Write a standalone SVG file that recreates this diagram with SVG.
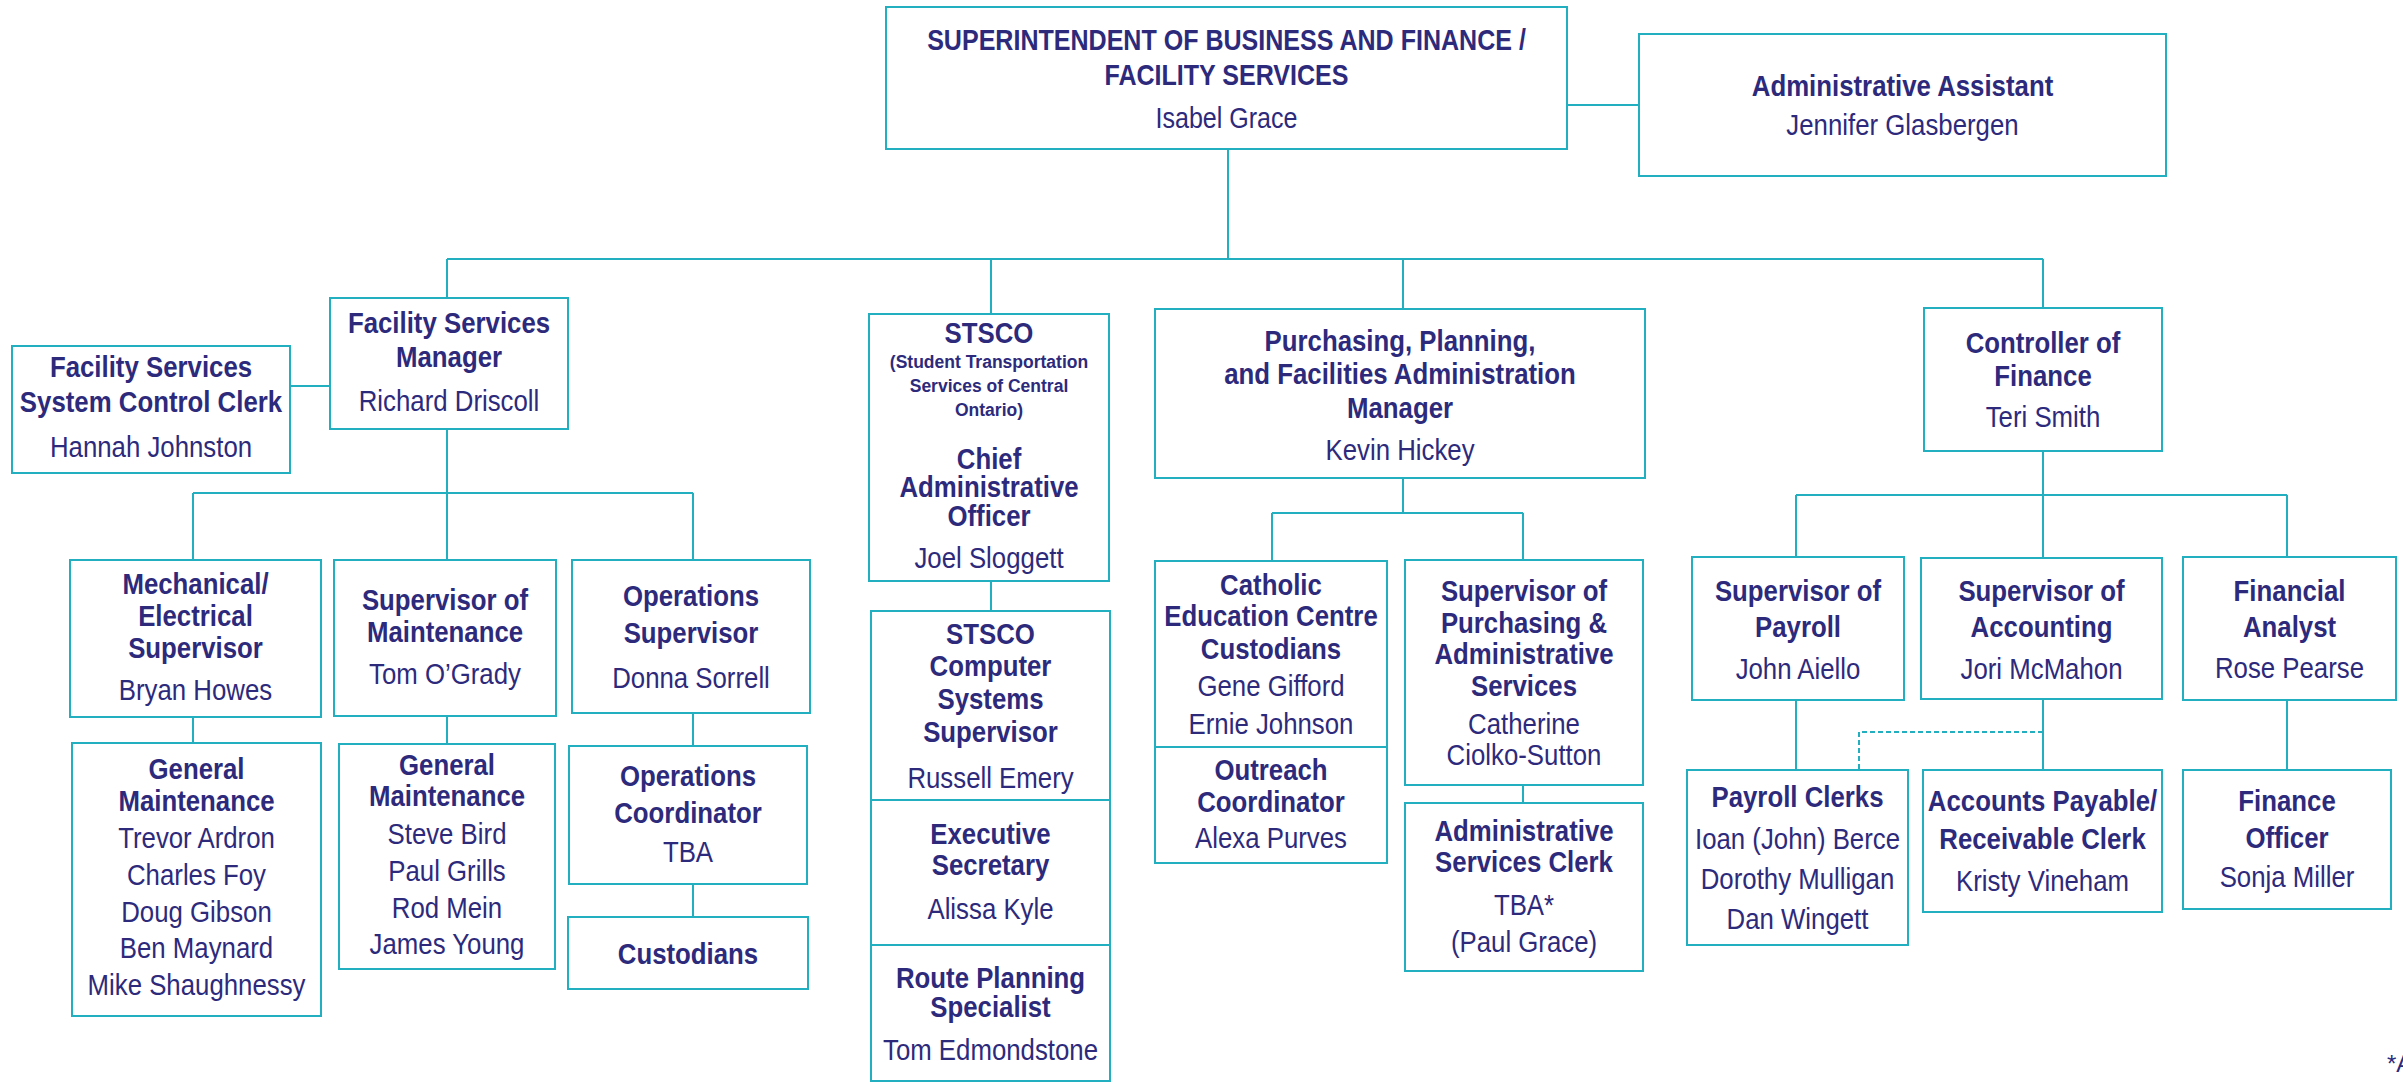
<svg xmlns="http://www.w3.org/2000/svg" width="2403" height="1082" viewBox="0 0 2403 1082">
<style>
.box{fill:#ffffff;stroke:#22afc0;stroke-width:2}
.ln{fill:none;stroke:#22afc0;stroke-width:2}
.dash{fill:none;stroke:#22afc0;stroke-width:2;stroke-dasharray:5 3}
text{fill:#2d2a7c;font-family:"Liberation Sans",Arial,sans-serif;font-size:30px;text-anchor:middle}
.t{font-weight:bold}
.s{font-weight:bold;font-size:17.5px}
</style>
<rect width="2403" height="1082" fill="#ffffff"/>
<g id="connectors">
<path class="ln" d="M1567 105H1639"/>
<path class="ln" d="M1228 149V259M447 259H2043M447 259V298M991 259V314M1403 259V309M2043 259V308"/>
<path class="ln" d="M290 386H330"/>
<path class="ln" d="M447 429V560M193 493H693M193 493V560M693 493V560"/>
<path class="ln" d="M193 717V743M447 716V744M693 713V746M693 884V917"/>
<path class="ln" d="M991 581V611"/>
<path class="ln" d="M1403 478V513M1272 513H1523M1272 513V561M1523 513V560M1523 785V803"/>
<path class="ln" d="M2043 451V558M1796 495H2287M1796 495V557M2287 495V557"/>
<path class="ln" d="M1796 700V770M2043 699V770M2287 700V770"/>
<path class="dash" d="M2043 732H1859V770"/>
</g>
<g id="superintendent">
<rect class="box" x="886" y="7" width="681" height="142"/>
<g transform="translate(1226.5 0) scale(0.835 1)">
<text class="t" x="0" y="50">SUPERINTENDENT OF BUSINESS AND FINANCE /</text>
<text class="t" x="0" y="85">FACILITY SERVICES</text>
<text x="0" y="128">Isabel Grace</text>
</g>
</g>
<g id="admin-assistant">
<rect class="box" x="1639" y="34" width="527" height="142"/>
<g transform="translate(1902.5 0) scale(0.86 1)">
<text class="t" x="0" y="96">Administrative Assistant</text>
<text x="0" y="135">Jennifer Glasbergen</text>
</g>
</g>
<g id="facility-manager">
<rect class="box" x="330" y="298" width="238" height="131"/>
<g transform="translate(449 0) scale(0.86 1)">
<text class="t" x="0" y="333">Facility Services</text>
<text class="t" x="0" y="367">Manager</text>
<text x="0" y="411">Richard Driscoll</text>
</g>
</g>
<g id="system-control-clerk">
<rect class="box" x="12" y="346" width="278" height="127"/>
<g transform="translate(151 0) scale(0.86 1)">
<text class="t" x="0" y="377">Facility Services</text>
<text class="t" x="0" y="412">System Control Clerk</text>
<text x="0" y="457">Hannah Johnston</text>
</g>
</g>
<g id="stsco">
<rect class="box" x="869" y="314" width="240" height="267"/>
<text class="s" x="989" y="368">(Student Transportation</text>
<text class="s" x="989" y="392">Services of Central</text>
<text class="s" x="989" y="416">Ontario)</text>
<g transform="translate(989 0) scale(0.86 1)">
<text class="t" x="0" y="343">STSCO</text>
<text class="t" x="0" y="469">Chief</text>
<text class="t" x="0" y="497">Administrative</text>
<text class="t" x="0" y="526">Officer</text>
<text x="0" y="568">Joel Sloggett</text>
</g>
</g>
<g id="purchasing-manager">
<rect class="box" x="1155" y="309" width="490" height="169"/>
<g transform="translate(1400 0) scale(0.86 1)">
<text class="t" x="0" y="351">Purchasing, Planning,</text>
<text class="t" x="0" y="384">and Facilities Administration</text>
<text class="t" x="0" y="418">Manager</text>
<text x="0" y="460">Kevin Hickey</text>
</g>
</g>
<g id="controller">
<rect class="box" x="1924" y="308" width="238" height="143"/>
<g transform="translate(2043 0) scale(0.86 1)">
<text class="t" x="0" y="353">Controller of</text>
<text class="t" x="0" y="386">Finance</text>
<text x="0" y="427">Teri Smith</text>
</g>
</g>
<g id="mech-elec-supervisor">
<rect class="box" x="70" y="560" width="251" height="157"/>
<g transform="translate(195.5 0) scale(0.86 1)">
<text class="t" x="0" y="594">Mechanical/</text>
<text class="t" x="0" y="626">Electrical</text>
<text class="t" x="0" y="658">Supervisor</text>
<text x="0" y="700">Bryan Howes</text>
</g>
</g>
<g id="maintenance-supervisor">
<rect class="box" x="334" y="560" width="222" height="156"/>
<g transform="translate(445 0) scale(0.86 1)">
<text class="t" x="0" y="610">Supervisor of</text>
<text class="t" x="0" y="642">Maintenance</text>
<text x="0" y="684">Tom O’Grady</text>
</g>
</g>
<g id="operations-supervisor">
<rect class="box" x="572" y="560" width="238" height="153"/>
<g transform="translate(691 0) scale(0.86 1)">
<text class="t" x="0" y="606">Operations</text>
<text class="t" x="0" y="643">Supervisor</text>
<text x="0" y="688">Donna Sorrell</text>
</g>
</g>
<g id="general-maintenance-1">
<rect class="box" x="72" y="743" width="249" height="273"/>
<g transform="translate(196.5 0) scale(0.86 1)">
<text class="t" x="0" y="779">General</text>
<text class="t" x="0" y="811">Maintenance</text>
<text x="0" y="848">Trevor Ardron</text>
<text x="0" y="885">Charles Foy</text>
<text x="0" y="922">Doug Gibson</text>
<text x="0" y="958">Ben Maynard</text>
<text x="0" y="995">Mike Shaughnessy</text>
</g>
</g>
<g id="general-maintenance-2">
<rect class="box" x="339" y="744" width="216" height="225"/>
<g transform="translate(447 0) scale(0.86 1)">
<text class="t" x="0" y="775">General</text>
<text class="t" x="0" y="806">Maintenance</text>
<text x="0" y="844">Steve Bird</text>
<text x="0" y="881">Paul Grills</text>
<text x="0" y="918">Rod Mein</text>
<text x="0" y="954">James Young</text>
</g>
</g>
<g id="operations-coordinator">
<rect class="box" x="569" y="746" width="238" height="138"/>
<g transform="translate(688 0) scale(0.86 1)">
<text class="t" x="0" y="786">Operations</text>
<text class="t" x="0" y="823">Coordinator</text>
<text x="0" y="862">TBA</text>
</g>
</g>
<g id="custodians">
<rect class="box" x="568" y="917" width="240" height="72"/>
<g transform="translate(688 0) scale(0.86 1)">
<text class="t" x="0" y="964">Custodians</text>
</g>
</g>
<g id="stsco-computer-supervisor">
<rect class="box" x="871" y="611" width="239" height="189"/>
<g transform="translate(990.5 0) scale(0.86 1)">
<text class="t" x="0" y="644">STSCO</text>
<text class="t" x="0" y="676">Computer</text>
<text class="t" x="0" y="709">Systems</text>
<text class="t" x="0" y="742">Supervisor</text>
<text x="0" y="788">Russell Emery</text>
</g>
</g>
<g id="executive-secretary">
<rect class="box" x="871" y="800" width="239" height="145"/>
<g transform="translate(990.5 0) scale(0.86 1)">
<text class="t" x="0" y="844">Executive</text>
<text class="t" x="0" y="875">Secretary</text>
<text x="0" y="919">Alissa Kyle</text>
</g>
</g>
<g id="route-planning-specialist">
<rect class="box" x="871" y="945" width="239" height="136"/>
<g transform="translate(990.5 0) scale(0.86 1)">
<text class="t" x="0" y="988">Route Planning</text>
<text class="t" x="0" y="1017">Specialist</text>
<text x="0" y="1060">Tom Edmondstone</text>
</g>
</g>
<g id="catholic-education-centre-custodians">
<rect class="box" x="1155" y="561" width="232" height="186"/>
<g transform="translate(1271 0) scale(0.86 1)">
<text class="t" x="0" y="595">Catholic</text>
<text class="t" x="0" y="626">Education Centre</text>
<text class="t" x="0" y="659">Custodians</text>
<text x="0" y="696">Gene Gifford</text>
<text x="0" y="734">Ernie Johnson</text>
</g>
</g>
<g id="outreach-coordinator">
<rect class="box" x="1155" y="747" width="232" height="116"/>
<g transform="translate(1271 0) scale(0.86 1)">
<text class="t" x="0" y="780">Outreach</text>
<text class="t" x="0" y="812">Coordinator</text>
<text x="0" y="848">Alexa Purves</text>
</g>
</g>
<g id="purchasing-supervisor">
<rect class="box" x="1405" y="560" width="238" height="225"/>
<g transform="translate(1524 0) scale(0.86 1)">
<text class="t" x="0" y="601">Supervisor of</text>
<text class="t" x="0" y="633">Purchasing &amp;</text>
<text class="t" x="0" y="664">Administrative</text>
<text class="t" x="0" y="696">Services</text>
<text x="0" y="734">Catherine</text>
<text x="0" y="765">Ciolko-Sutton</text>
</g>
</g>
<g id="administrative-services-clerk">
<rect class="box" x="1405" y="803" width="238" height="168"/>
<g transform="translate(1524 0) scale(0.86 1)">
<text class="t" x="0" y="841">Administrative</text>
<text class="t" x="0" y="872">Services Clerk</text>
<text x="0" y="915">TBA*</text>
<text x="0" y="952">(Paul Grace)</text>
</g>
</g>
<g id="payroll-supervisor">
<rect class="box" x="1692" y="557" width="212" height="143"/>
<g transform="translate(1798 0) scale(0.86 1)">
<text class="t" x="0" y="601">Supervisor of</text>
<text class="t" x="0" y="637">Payroll</text>
<text x="0" y="679">John Aiello</text>
</g>
</g>
<g id="accounting-supervisor">
<rect class="box" x="1921" y="558" width="241" height="141"/>
<g transform="translate(2041.5 0) scale(0.86 1)">
<text class="t" x="0" y="601">Supervisor of</text>
<text class="t" x="0" y="637">Accounting</text>
<text x="0" y="679">Jori McMahon</text>
</g>
</g>
<g id="financial-analyst">
<rect class="box" x="2183" y="557" width="213" height="143"/>
<g transform="translate(2289.5 0) scale(0.86 1)">
<text class="t" x="0" y="601">Financial</text>
<text class="t" x="0" y="637">Analyst</text>
<text x="0" y="678">Rose Pearse</text>
</g>
</g>
<g id="payroll-clerks">
<rect class="box" x="1687" y="770" width="221" height="175"/>
<g transform="translate(1797.5 0) scale(0.86 1)">
<text class="t" x="0" y="807">Payroll Clerks</text>
<text x="0" y="849">Ioan (John) Berce</text>
<text x="0" y="889">Dorothy Mulligan</text>
<text x="0" y="929">Dan Wingett</text>
</g>
</g>
<g id="accounts-clerk">
<rect class="box" x="1923" y="770" width="239" height="142"/>
<g transform="translate(2042.5 0) scale(0.86 1)">
<text class="t" x="0" y="811">Accounts Payable/</text>
<text class="t" x="0" y="849">Receivable Clerk</text>
<text x="0" y="891">Kristy Vineham</text>
</g>
</g>
<g id="finance-officer">
<rect class="box" x="2183" y="770" width="208" height="139"/>
<g transform="translate(2287 0) scale(0.86 1)">
<text class="t" x="0" y="811">Finance</text>
<text class="t" x="0" y="848">Officer</text>
<text x="0" y="887">Sonja Miller</text>
</g>
</g>
<g id="footnote">
<text x="2387" y="1072" style="text-anchor:start;font-size:24px">*A</text>
</g>
</svg>
